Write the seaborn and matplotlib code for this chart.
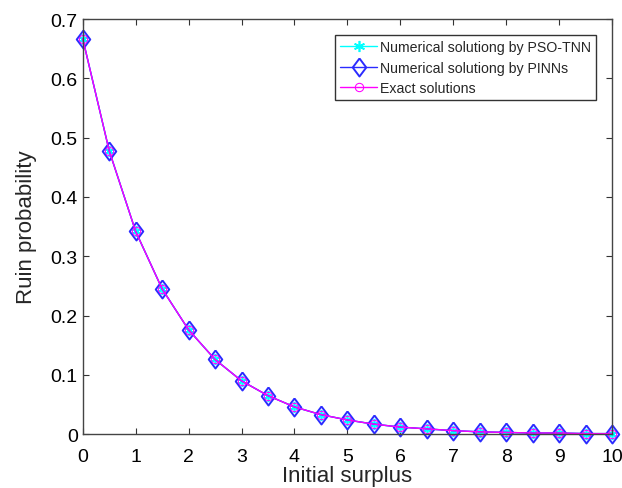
import numpy as np
import pandas as pd
import matplotlib
matplotlib.use("Agg")
import matplotlib.pyplot as plt
import seaborn as sns

surplus = [0, 0.5, 1, 1.5, 2, 2.5, 3, 3.5, 4, 4.5, 5, 5.5, 6, 6.5, 7, 7.5, 8, 8.5, 9, 9.5, 10]
pso_tnn = [0.667, 0.478, 0.342, 0.245, 0.176, 0.126, 0.090, 0.065, 0.046, 0.033, 0.024,
           0.017, 0.012, 0.009, 0.006, 0.004, 0.003, 0.002, 0.002, 0.001, 0.001]
pinns = [0.667, 0.478, 0.342, 0.245, 0.176, 0.126, 0.090, 0.065, 0.046, 0.033, 0.024,
         0.017, 0.012, 0.009, 0.006, 0.004, 0.003, 0.002, 0.002, 0.001, 0.001]
exact = [0.667, 0.478, 0.342, 0.245, 0.176, 0.126, 0.090, 0.065, 0.046, 0.033, 0.024,
         0.017, 0.012, 0.009, 0.006, 0.004, 0.003, 0.002, 0.002, 0.001, 0.001]
labels = ["Numerical solutiong by PSO-TNN", "Numerical solutiong by PINNs", "Exact solutions"]

sns.set_style("ticks")
plt.rcParams['font.family'] = ['Liberation Sans', 'DejaVu Sans']

fig = plt.figure(figsize=(6.22, 4.89), dpi=100)
ax = fig.add_axes([0.133, 0.110, 0.851, 0.849])

df = pd.DataFrame({"u": surplus, "pso": pso_tnn, "pinn": pinns, "exact": exact})

# matlab-ish diamond, a bit taller than wide
diamond = [(0, 1), (0.75, 0), (0, -1), (-0.75, 0), (0, 1)]

sns.lineplot(data=df, x="u", y="pso", ax=ax, color="cyan", marker=(6, 2, 0), markersize=8,
             markeredgecolor="cyan", markeredgewidth=1.2, linewidth=1, label=labels[0],
             clip_on=False)
sns.lineplot(data=df, x="u", y="pinn", ax=ax, color="#2b2bff", marker=diamond, markersize=13,
             markerfacecolor="none", markeredgecolor="#2b2bff", markeredgewidth=1.4,
             linewidth=1, label=labels[1], clip_on=False)
sns.lineplot(data=df, x="u", y="exact", ax=ax, color="magenta", marker="o", markersize=6,
             markerfacecolor="none", markeredgecolor="magenta", linewidth=1, label=labels[2],
             clip_on=False)

ax.set_xlim(0, 10)
ax.set_ylim(0, 0.7)
ax.set_xticks(range(0, 11))
ax.set_yticks(np.arange(0, 0.71, 0.1))
ax.set_yticklabels(["0", "0.1", "0.2", "0.3", "0.4", "0.5", "0.6", "0.7"])
ax.tick_params(direction="in", top=True, right=True, labelsize=14, length=4, colors="#333333",
               labelcolor="black")
ax.tick_params(axis="x", pad=10)
for s in ax.spines.values():
    s.set_visible(True)
    s.set_color("#444444")
    s.set_linewidth(1)
ax.set_xlabel("Initial surplus", fontsize=16, labelpad=0)
ax.set_ylabel("Ruin probability", fontsize=16, labelpad=10)

leg = ax.legend(loc="upper right", bbox_to_anchor=(0.983, 0.978), fontsize=10.2, frameon=True,
                fancybox=False, edgecolor="black", handlelength=2.6, borderpad=0.35,
                labelspacing=0.45, handletextpad=0.2)
leg.get_frame().set_linewidth(1)

fig.savefig("out.png", dpi=100)
